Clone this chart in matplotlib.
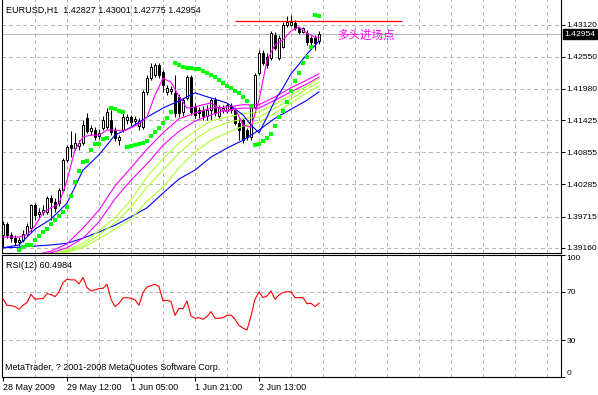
# ============================================================= #
#
# EURUSD H1 chart (MetaTrader look): candles, moving averages,
# parabolic SAR dots and RSI(12) in a lower pane
#
# ============================================================= #
import matplotlib as mpl
mpl.use('Agg')
import matplotlib.pyplot as plt
import numpy as np

# ------------------------------------------------------------- #
# Data (bar 0 = 28 May 2009 20:00, one bar per hour)
opens = [1.3939, 1.3958, 1.3939, 1.3933, 1.3926, 1.3930, 1.3940, 1.3951, 1.3992, 1.3976,
         1.3979, 1.3979, 1.4004, 1.3997, 1.3995, 1.4019, 1.4072, 1.4098, 1.4093, 1.4097,
         1.4102, 1.4146, 1.4123, 1.4125, 1.4114, 1.4129, 1.4130, 1.4143, 1.4125, 1.4107,
         1.4125, 1.4143, 1.4148, 1.4141, 1.4132, 1.4130, 1.4193, 1.4217, 1.4223, 1.4241,
         1.4228, 1.4193, 1.4194, 1.4191, 1.4184, 1.4157, 1.4182, 1.4219, 1.4166, 1.4161,
         1.4161, 1.4150, 1.4161, 1.4178, 1.4150, 1.4161, 1.4159, 1.4168, 1.4161, 1.4138,
         1.4143, 1.4125, 1.4113, 1.4166, 1.4226, 1.4262, 1.4255, 1.4253, 1.4294, 1.4253,
         1.4273, 1.4312, 1.4312, 1.4315, 1.4306, 1.4299, 1.4297, 1.4289, 1.4289, 1.42827]
highs = [1.3964, 1.3962, 1.3944, 1.3939, 1.3935, 1.3948, 1.3960, 1.3994, 1.3995, 1.3987,
         1.3992, 1.4008, 1.4010, 1.4004, 1.4022, 1.4075, 1.4098, 1.4123, 1.4120, 1.4107,
         1.4143, 1.4155, 1.4134, 1.4130, 1.4127, 1.4150, 1.4164, 1.4161, 1.4130, 1.4116,
         1.4155, 1.4154, 1.4152, 1.4150, 1.4146, 1.4196, 1.4223, 1.4244, 1.4244, 1.4244,
         1.4232, 1.4205, 1.4203, 1.4223, 1.4189, 1.4182, 1.4223, 1.4223, 1.4173, 1.4166,
         1.4168, 1.4170, 1.4182, 1.4184, 1.4170, 1.4170, 1.4173, 1.4173, 1.4166, 1.4146,
         1.4146, 1.4129, 1.4170, 1.4226, 1.4267, 1.4267, 1.4262, 1.4301, 1.4299, 1.4294,
         1.4317, 1.4328, 1.4329, 1.4320, 1.4308, 1.4308, 1.4303, 1.4292, 1.4294, 1.43001]
lows = [1.3917, 1.3933, 1.3926, 1.3921, 1.3919, 1.3926, 1.3937, 1.3944, 1.3965, 1.3969,
        1.3974, 1.3976, 1.3965, 1.3979, 1.3990, 1.4015, 1.4068, 1.4077, 1.4090, 1.4090,
        1.4098, 1.4120, 1.4116, 1.4107, 1.4109, 1.4125, 1.4127, 1.4116, 1.4106, 1.4098,
        1.4122, 1.4136, 1.4132, 1.4136, 1.4125, 1.4127, 1.4187, 1.4214, 1.4219, 1.4217,
        1.4193, 1.4187, 1.4189, 1.4148, 1.4148, 1.4150, 1.4178, 1.4152, 1.4146, 1.4146,
        1.4143, 1.4143, 1.4143, 1.4150, 1.4146, 1.4155, 1.4155, 1.4155, 1.4134, 1.4107,
        1.4102, 1.4107, 1.4107, 1.4162, 1.4223, 1.4241, 1.4235, 1.4249, 1.4267, 1.4249,
        1.4271, 1.4308, 1.4310, 1.4303, 1.4296, 1.4297, 1.4276, 1.4273, 1.4267, 1.42775]
closes = [1.3958, 1.3939, 1.3933, 1.3926, 1.3930, 1.3940, 1.3955, 1.3992, 1.3974, 1.3979,
          1.3983, 1.4004, 1.3997, 1.3987, 1.4019, 1.4072, 1.4095, 1.4093, 1.4102, 1.4102,
          1.4134, 1.4123, 1.4129, 1.4113, 1.4120, 1.4143, 1.4157, 1.4122, 1.4111, 1.4113,
          1.4148, 1.4148, 1.4139, 1.4145, 1.4141, 1.4193, 1.4217, 1.4237, 1.4241, 1.4223,
          1.4205, 1.4200, 1.4198, 1.4155, 1.4155, 1.4178, 1.4219, 1.4157, 1.4152, 1.4155,
          1.4150, 1.4161, 1.4178, 1.4155, 1.4164, 1.4164, 1.4170, 1.4161, 1.4138, 1.4125,
          1.4107, 1.4113, 1.4166, 1.4223, 1.4262, 1.4244, 1.4241, 1.4297, 1.4271, 1.4289,
          1.4312, 1.4317, 1.4317, 1.4306, 1.4299, 1.4306, 1.4281, 1.4281, 1.4280, 1.42954]

# Parabolic SAR (nan = no dot)
sar = [np.nan, np.nan, np.nan, np.nan,
       1.3912, 1.3917, 1.3921, 1.3921, 1.3930, 1.3937, 1.3944, 1.3949, 1.3958, 1.3965,
       1.3972, 1.3979, 1.3988, 1.4008, 1.4033, 1.4052, 1.4068, 1.4070, 1.4090, 1.4100,
       1.4100, 1.4109, 1.4111,
       1.4164, 1.4162, 1.4159, 1.4157,
       1.4095, 1.4097, 1.4098, 1.4100, 1.4102, 1.4106, 1.4114, 1.4122, 1.4129, 1.4138,
       1.4146, 1.4157,
       1.4244, 1.4241, 1.4237, 1.4235, 1.4235, 1.4233, 1.4233, 1.4230, 1.4226, 1.4223,
       1.4219, 1.4214, 1.4209, 1.4203, 1.4200, 1.4194, 1.4191, 1.4184, 1.4177, 1.4168,
       1.4098, 1.4100, 1.4106, 1.4111, 1.4118, 1.4132, 1.4148, 1.4159, 1.4175, 1.4194,
       1.4212, 1.4226, 1.4244, 1.4255, 1.4273,
       1.4329, 1.4328]

# Moving averages, read at every 2nd / 4th bar
ma_fast_bars = list(range(0, 80, 2)) + [79]
ma_fast = [1.3935, 1.3935, 1.3935, 1.3939, 1.3955, 1.3978, 1.3987, 1.3994, 1.4036, 1.4090,
           1.4113, 1.4116, 1.4116, 1.4125, 1.4125, 1.4123, 1.4129, 1.4136, 1.4148, 1.4187,
           1.4217, 1.4210, 1.4185, 1.4164, 1.4166, 1.4170, 1.4173, 1.4164, 1.4157, 1.4164,
           1.4134, 1.4130, 1.4178, 1.4249, 1.4276, 1.4285, 1.4301, 1.4308, 1.4297, 1.4290,
           1.4290]

ma_blue_bars = [0, 4, 8, 12, 16, 20, 24, 28, 32, 36, 40, 44, 48, 52, 56, 60, 62, 64,
                66, 68, 70, 72, 74, 76, 79]
ma_blue = [1.3916, 1.3921, 1.3949, 1.3967, 1.3995, 1.4054, 1.4081, 1.4116, 1.4130, 1.4148,
           1.4164, 1.4177, 1.4191, 1.4182, 1.4173, 1.4152, 1.4134, 1.4120, 1.4148, 1.4178,
           1.4200, 1.4225, 1.4242, 1.4260, 1.4283]

slow_bars = list(range(0, 80, 4)) + [79]
ma_mag1 = [1.3901, 1.3901, 1.3903, 1.3910, 1.3923, 1.3951, 1.3983, 1.4026, 1.4058, 1.4091,
           1.4120, 1.4145, 1.4155, 1.4164, 1.4166, 1.4170, 1.4170, 1.4184, 1.4200, 1.4214,
           1.4225]
ma_mag2 = [1.3900, 1.3900, 1.3901, 1.3907, 1.3916, 1.3933, 1.3962, 1.4003, 1.4036, 1.4065,
           1.4098, 1.4123, 1.4141, 1.4152, 1.4161, 1.4164, 1.4164, 1.4178, 1.4193, 1.4207,
           1.4219]
ma_yg1 = [1.3900, 1.3900, 1.3901, 1.3905, 1.3912, 1.3924, 1.3946, 1.3969, 1.4001, 1.4042,
          1.4074, 1.4102, 1.4123, 1.4141, 1.4148, 1.4154, 1.4157, 1.4171, 1.4187, 1.4203,
          1.4216]
ma_yg2 = [1.3898, 1.3898, 1.3900, 1.3903, 1.3910, 1.3919, 1.3939, 1.3960, 1.3988, 1.4024,
          1.4054, 1.4084, 1.4109, 1.4127, 1.4138, 1.4145, 1.4148, 1.4164, 1.4180, 1.4198,
          1.4210]
ma_yg3 = [1.3898, 1.3898, 1.3900, 1.3903, 1.3908, 1.3916, 1.3932, 1.3949, 1.3967, 1.3999,
          1.4024, 1.4058, 1.4086, 1.4107, 1.4120, 1.4132, 1.4139, 1.4155, 1.4173, 1.4191,
          1.4203]
ma_blue_slow = [1.3916, 1.3917, 1.3919, 1.3921, 1.3924, 1.3933, 1.3944, 1.3956, 1.3971,
                1.3987, 1.4013, 1.4038, 1.4054, 1.4077, 1.4093, 1.4107, 1.4125, 1.4146,
                1.4162, 1.4178, 1.4193]

# RSI(12)
rsi = [64.2, 58.8, 58.5, 57.7, 55.5, 58.8, 61.0, 67.8, 63.7, 64.2,
       64.2, 68.4, 67.5, 65.9, 69.7, 77.4, 80.1, 79.6, 79.6, 76.3,
       81.5, 73.3, 70.5, 71.4, 72.5, 72.7, 76.0, 63.7, 57.7, 60.4,
       64.8, 65.1, 64.5, 63.2, 58.8, 69.2, 73.8, 74.9, 76.0, 74.1,
       62.3, 62.9, 61.8, 50.5, 56.3, 56.0, 62.3, 50.0, 48.1, 48.6,
       47.3, 49.5, 53.6, 48.1, 48.1, 48.6, 50.5, 50.8, 47.3, 42.3,
       40.1, 38.5, 50.0, 63.7, 69.7, 65.1, 66.4, 70.5, 63.7, 67.3,
       69.2, 70.0, 69.7, 65.1, 65.1, 65.1, 60.1, 60.4, 57.7, 60.4984]

# Axis labels
price_ticks = [1.43120, 1.42550, 1.41980, 1.41425, 1.40855, 1.40285, 1.39715, 1.39160]
date_bars = [0, 16, 32, 48, 64]
date_labels = ['28 May 2009', '29 May 12:00', '1 Jun 05:00', '1 Jun 21:00', '2 Jun 13:00']
rsi_ticks = [100, 70, 30, 0]

# Horizontal line object and note
entry_level = 1.4319
entry_bars = (58, 99.75)
note_text = '多头进场点'

# ------------------------------------------------------------- #
# Style
W, H = 598, 395
grid_kw = dict(color='#b8b8b8', linewidth=0.72, linestyle=(0, (3, 3)), antialiased=False)
plt.rcParams['font.family'] = ['Liberation Sans', 'DejaVu Sans']
plt.rcParams['font.size'] = 6.5
tick_fs = 6.1


# Axes box from pixel edges (left, top, right, bottom)
def px_box(l, t, r, b):
    return [l / W, 1 - b / H, (r - l) / W, (b - t) / H]


def draw_candles(ax, o, h, l, c):
    idx = np.arange(len(o))
    o, h, l, c = map(np.array, (o, h, l, c))
    ax.vlines(idx, l, h, color='black', linewidth=0.72, zorder=2)
    face = np.where(c >= o, 'white', 'black')
    ax.bar(idx, np.abs(c - o), bottom=np.minimum(o, c), width=0.5,
           color=face, edgecolor='black', linewidth=0.72, zorder=2.5)


# ------------------------------------------------------------- #
# Main game
fig = plt.figure(figsize=(W / 100, H / 100), dpi=100)
ax = fig.add_axes(px_box(2, 0, 561, 253))
ax2 = fig.add_axes(px_box(2, 255, 561, 377), sharex=ax)

# Price pane
ax.set_xlim(-0.25, 139.5)
ax.set_ylim(1.39067, 1.4356)
for b in range(8, 140, 8):
    ax.axvline(b, zorder=0, **grid_kw)
for p in price_ticks:
    ax.axhline(p, zorder=0, **grid_kw)
ax.axhline(closes[-1], color='#b4b4b4', linewidth=0.72, zorder=0.5)

ax.plot(slow_bars, ma_blue_slow, color='#0000ff', linewidth=0.8, zorder=3)
ax.plot(slow_bars, ma_yg3, color='#adff2f', linewidth=0.8, zorder=3)
ax.plot(slow_bars, ma_yg2, color='#adff2f', linewidth=0.8, zorder=3)
ax.plot(slow_bars, ma_yg1, color='#adff2f', linewidth=0.8, zorder=3)
ax.plot(slow_bars, ma_mag2, color='#ff00ff', linewidth=0.8, zorder=3)
ax.plot(slow_bars, ma_mag1, color='#ff00ff', linewidth=0.8, zorder=3)
ax.plot(ma_blue_bars, ma_blue, color='#0000ff', linewidth=0.8, zorder=3)
ax.plot(ma_fast_bars, ma_fast, color='#ff00ff', linewidth=0.8, zorder=3)

draw_candles(ax, opens, highs, lows, closes)

ax.plot(np.arange(len(sar)), sar, linestyle='none', marker='s', markersize=2.2,
        markeredgewidth=0, color='#00ff00', zorder=4)

ax.hlines(entry_level, entry_bars[0], entry_bars[1], color='#ff0000', linewidth=0.9, zorder=4)
ax.text(83.5, 1.4294, note_text, color='#ff00ff', fontsize=8.3, ha='left', va='center',
        family=['Noto Sans CJK SC', 'DejaVu Sans'], zorder=5)

title = 'EURUSD,H1  %.5f %.5f %.5f %.5f' % (opens[-1], highs[-1], lows[-1], closes[-1])
ax.text(4 / 559, 1 - 10 / 253, title, transform=ax.transAxes, ha='left', va='center', zorder=5)

ax.yaxis.tick_right()
ax.set_yticks(price_ticks)
ax.set_yticklabels(['%.5f' % p for p in price_ticks])
ax.tick_params(axis='y', direction='out', length=3, width=0.72, pad=1.2, labelsize=tick_fs)
ax.tick_params(axis='x', bottom=False, labelbottom=False)
ax.text(1.006, closes[-1], '%.5f' % closes[-1], transform=ax.get_yaxis_transform(),
        ha='left', va='center', color='white', fontsize=tick_fs, zorder=6,
        bbox=dict(facecolor='black', edgecolor='black', pad=0.9))
ax.spines['top'].set_visible(False)
for s in ['left', 'right', 'bottom']:
    ax.spines[s].set_linewidth(0.8)

# RSI pane
ax2.set_ylim(0, 100)
for b in range(8, 140, 8):
    ax2.axvline(b, zorder=0, **grid_kw)
for r in [70, 30]:
    ax2.axhline(r, zorder=0, **grid_kw)
ax2.plot(np.arange(len(rsi)), rsi, color='#ff0000', linewidth=0.8, zorder=3)
ax2.text(4 / 559, 1 - 10 / 122, 'RSI(12) %.4f' % rsi[-1], transform=ax2.transAxes,
         ha='left', va='center')
ax2.text(3 / 559, 9 / 122, 'MetaTrader, ? 2001-2008 MetaQuotes Software Corp.',
         transform=ax2.transAxes, ha='left', va='center')

ax2.yaxis.tick_right()
ax2.set_yticks(rsi_ticks)
ax2.set_yticklabels([str(t) for t in rsi_ticks])
ylabs = ax2.get_yticklabels()
ylabs[0].set_va('top')
ylabs[-1].set_va('bottom')
ax2.tick_params(axis='y', direction='out', length=3, width=0.72, pad=1.2, labelsize=tick_fs)

ax2.set_xticks(date_bars)
ax2.set_xticklabels(date_labels, ha='left')
ax2.tick_params(axis='x', direction='out', length=3, width=0.72, pad=1)
for s in ax2.spines.values():
    s.set_linewidth(0.8)

fig.savefig('out.png', dpi=100)
plt.close()
